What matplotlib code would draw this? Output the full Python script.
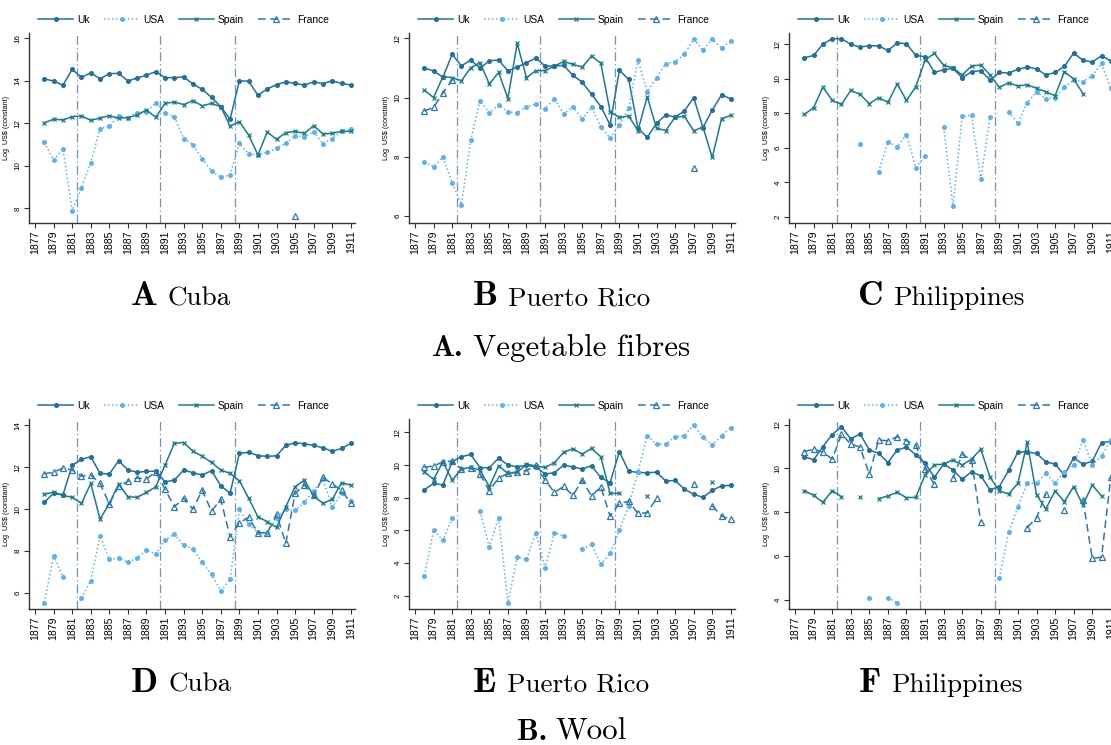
import numpy as np
import matplotlib
matplotlib.use("Agg")
import matplotlib.pyplot as plt

nan = np.nan
years = np.arange(1877, 1912)
break_years = [1881.5, 1890.5, 1898.5]
series_names = ["Uk", "USA", "Spain", "France"]

# ---------------- Vegetable fibres ----------------
cuba_veg_uk = [nan, 14.09, 13.99, 13.79, 14.54, 14.16, 14.38, 14.09, 14.34, 14.35, 13.99,
               14.13, 14.27, 14.43, 14.15, 14.15, 14.18, 13.85, 13.6, 13.22, 12.78,
               12.19, 14.0, 13.98, 13.32, 13.62, 13.82, 13.95, 13.88, 13.8, 13.95,
               13.87, 14.0, 13.88, 13.8]
cuba_veg_usa = [nan, 11.1, 10.27, 10.8, 7.89, 8.97, 10.15, 11.75, 11.87, 12.35, 12.25,
                12.5, 12.53, 12.97, 12.47, 12.31, 11.28, 11.0, 10.34, 9.74, 9.47,
                9.57, 11.06, 10.56, 10.51, 10.65, 10.82, 11.06, 11.42, 11.37, 11.61,
                11.03, 11.28, 11.62, 11.72]
cuba_veg_spain = [nan, 12.03, 12.19, 12.16, 12.31, 12.35, 12.14, 12.25, 12.36, 12.24, 12.27,
                  12.39, 12.63, 12.28, 12.94, 13.0, 12.88, 13.07, 12.82, 12.94, 12.78,
                  11.87, 12.08, 11.45, 10.51, 11.59, 11.25, 11.56, 11.62, 11.53, 11.89,
                  11.5, 11.53, 11.62, 11.62]
cuba_veg_france = [nan] * 28 + [7.62] + [nan] * 6

pr_veg_uk = [nan, 11.0, 10.9, 10.69, 11.46, 11.07, 11.27, 10.99, 11.24, 11.27, 10.9,
             11.03, 11.18, 11.33, 11.07, 11.06, 11.09, 10.75, 10.52, 10.12, 9.7,
             9.08, 10.92, 10.62, 8.97, 8.66, 9.13, 9.42, 9.34, 9.55, 10.0,
             8.99, 9.58, 10.09, 9.96]
pr_veg_usa = [nan, 7.83, 7.67, 7.99, 7.13, 6.39, 8.56, 9.9, 9.49, 9.75, 9.52,
              9.49, 9.7, 9.78, 9.62, 9.96, 9.46, 9.69, 9.27, 9.67, 9.02,
              8.63, 9.07, 9.64, 11.27, 10.2, 10.67, 11.15, 11.21, 11.46, 11.98,
              11.6, 11.98, 11.67, 11.92]
pr_veg_spain = [nan, 10.25, 10.0, 10.71, 10.67, 10.57, 11.01, 11.18, 10.46, 10.85, 9.97,
                11.83, 10.67, 10.91, 10.91, 11.06, 11.22, 11.12, 11.03, 11.4, 11.16,
                9.53, 9.33, 9.38, 8.89, 10.03, 8.97, 8.89, 9.34, 9.37, 8.88,
                9.01, 7.98, 9.29, 9.4]
pr_veg_france = [nan, 9.55, 9.67, 10.16, 10.6] + [nan] * 25 + [7.62] + [nan] * 4

ph_veg_uk = [nan, 11.21, 11.34, 12.0, 12.31, 12.31, 11.98, 11.83, 11.9, 11.9, 11.63,
             12.06, 12.02, 11.34, 11.27, 10.36, 10.52, 10.59, 10.05, 10.4, 10.46,
             9.92, 10.36, 10.32, 10.54, 10.67, 10.57, 10.21, 10.36, 10.71, 11.48,
             11.06, 10.96, 11.33, 11.02]
ph_veg_usa = [nan, nan, nan, nan, nan, nan, nan, 6.2, nan, 4.62, 6.35,
              6.07, 6.76, 4.85, 5.53, nan, 7.18, 2.64, 7.82, 7.88, 4.2,
              7.8, nan, 8.09, 7.41, 8.61, 9.24, 8.84, 8.88, 9.51, 9.92,
              9.82, 10.17, 10.88, 9.44]
ph_veg_spain = [nan, 7.93, 8.32, 9.51, 8.74, 8.51, 9.32, 9.09, 8.55, 8.9, 8.63,
                9.69, 8.74, 9.53, 11.07, 11.46, 10.77, 10.63, 10.21, 10.73, 10.79,
                10.21, 9.5, 9.76, 9.57, 9.65, 9.44, 9.24, 9.01, 10.4, 9.98,
                9.13, nan, nan, nan]
ph_veg_france = [nan] * 35

# ---------------- Wool ----------------
cuba_wool_uk = [nan, 10.33, 10.75, 10.67, 12.08, 12.37, 12.49, 11.7, 11.67, 12.3, 11.86,
                11.76, 11.79, 11.81, 11.29, 11.38, 11.86, 11.73, 11.62, 11.83, 11.11,
                10.75, 12.65, 12.71, 12.54, 12.51, 12.54, 13.03, 13.16, 13.11, 13.03,
                12.92, 12.75, 12.89, 13.13]
cuba_wool_usa = [nan, 5.54, 7.78, 6.78, nan, 5.76, 6.59, 8.73, 7.6, 7.67, 7.46,
                 7.67, 8.05, 7.86, 8.52, 8.81, 8.27, 8.11, 7.46, 6.89, 6.1,
                 6.65, 9.98, 9.27, 8.89, 8.87, 9.59, 9.98, 9.95, 10.32, 10.87,
                 11.41, 10.08, 10.75, 10.38]
cuba_wool_spain = [nan, 10.7, 10.81, 10.65, 10.56, 10.27, 11.22, 9.52, 10.27, 11.19, 10.59,
                   10.56, 10.79, 11.06, 12.1, 13.13, 13.17, 12.75, 12.52, 12.22, 11.86,
                   11.7, 11.35, 10.51, 9.63, 9.4, 9.13, 10.11, 11.06, 11.38, 10.62,
                   10.27, 10.46, 11.25, 11.14]
cuba_wool_france = [nan, 11.68, 11.76, 11.95, 11.86, 11.57, 11.62, 11.22, 10.24, 11.1, 11.32,
                    11.48, 11.44, 11.76, 10.94, 10.11, 10.51, 10.0, 10.9, 9.9, 10.46,
                    8.68, 9.35, 9.6, 8.87, 8.87, 9.75, 8.37, 10.75, 11.14, 10.65,
                    11.51, 11.19, 10.9, 10.27]

pr_wool_uk = [nan, 8.49, 8.88, 8.78, 10.2, 10.51, 10.65, 9.84, 9.84, 10.43, 10.0,
              9.9, 9.98, 9.9, 9.45, 9.53, 10.0, 9.88, 9.76, 9.96, 9.24,
              8.92, 10.82, 9.63, 9.55, 9.53, 9.57, 9.02, 9.06, 8.53, 8.22,
              8.02, 8.45, 8.73, 8.76]
pr_wool_usa = [nan, 3.22, 6.02, 5.39, 6.73, nan, nan, 7.18, 5.0, 6.78, 1.57,
               4.39, 4.22, 5.86, 3.69, 5.86, 5.67, nan, 4.86, 5.14, 3.92,
               4.59, 6.0, 7.5, 9.6, 11.8, 11.27, 11.29, 11.73, 11.8, 12.45,
               11.69, 11.22, 11.8, 12.29]
pr_wool_spain = [nan, 9.59, 9.12, 10.2, 9.08, 9.76, 9.86, 9.69, 8.67, 9.94, 9.49,
                 9.55, 10.06, 9.94, 9.86, 10.14, 10.78, 11.0, 10.67, 11.02, 10.51,
                 8.27, 8.27, nan, nan, 8.1, nan, nan, nan, nan, nan,
                 nan, 8.94, nan, nan]
pr_wool_france = [nan, 9.86, 9.94, 10.2, 10.24, 9.76, 9.8, 9.43, 8.43, 9.22, 9.49,
                  9.59, 9.65, 10.0, 9.08, 8.33, 8.69, 8.14, 9.08, 8.1, 8.67,
                  6.88, 7.65, 7.78, 7.04, 7.08, 7.96, nan, nan, nan, 8.84,
                  nan, 7.51, 6.88, 6.67]

ph_wool_uk = [nan, 10.54, 10.39, 11.0, 11.55, 11.91, 11.35, 11.58, 10.84, 10.69, 10.27,
              10.84, 10.97, 10.63, 10.25, 9.59, 10.2, 9.93, 9.5, 9.85, 9.66,
              9.02, 9.17, 9.91, 10.75, 10.75, 10.69, 10.3, 10.2, 9.69, 10.49,
              10.19, 10.33, 11.18, 11.23]
ph_wool_usa = [nan, nan, nan, nan, nan, nan, nan, nan, 4.09, nan, 4.09,
               3.86, nan, nan, nan, nan, nan, nan, nan, nan, nan,
               nan, 5.0, 7.08, 8.24, 9.32, 9.32, 9.78, 9.32, 9.85, 10.14,
               11.3, 10.17, 10.57, 11.3]
ph_wool_spain = [nan, 8.98, 8.77, 8.45, 8.98, 8.71, nan, 8.68, nan, 8.62, 8.74,
                 8.91, 8.66, 8.68, 9.7, 10.16, 10.2, 10.39, 10.16, 10.42, 10.88,
                 9.59, 8.97, 8.83, 9.32, 11.2, 8.79, 8.15, 8.97, 8.48, 9.17,
                 8.33, 9.24, 8.74, nan]
ph_wool_france = [nan, 10.77, 10.88, 10.74, 10.43, 11.56, 11.12, 10.97, 9.73, 11.3, 11.26,
                  11.45, 11.27, 11.07, 9.98, 9.27, nan, 9.55, 10.65, 10.39, 7.54,
                  nan, nan, nan, nan, 7.29, 7.75, 8.82, nan, 8.1, nan,
                  8.56, 5.89, 5.94, 9.59]

panels = [
    ("A", "Cuba", [cuba_veg_uk, cuba_veg_usa, cuba_veg_spain, cuba_veg_france],
     (7.31, 16.25), [8, 10, 12, 14, 16]),
    ("B", "Puerto Rico", [pr_veg_uk, pr_veg_usa, pr_veg_spain, pr_veg_france],
     (5.77, 12.18), [6, 8, 10, 12]),
    ("C", "Philippines", [ph_veg_uk, ph_veg_usa, ph_veg_spain, ph_veg_france],
     (1.65, 12.64), [2, 4, 6, 8, 10, 12]),
    ("D", "Cuba", [cuba_wool_uk, cuba_wool_usa, cuba_wool_spain, cuba_wool_france],
     (5.24, 14.29), [6, 8, 10, 12, 14]),
    ("E", "Puerto Rico", [pr_wool_uk, pr_wool_usa, pr_wool_spain, pr_wool_france],
     (1.19, 12.82), [2, 4, 6, 8, 10, 12]),
    ("F", "Philippines", [ph_wool_uk, ph_wool_usa, ph_wool_spain, ph_wool_france],
     (3.57, 12.26), [4, 6, 8, 10, 12]),
]
group_titles = [("A.", "Vegetable fibres"), ("B.", "Wool")]

styles = {
    "Uk": dict(color="#22709c", ls="-", lw=1.1, marker="o", ms=2.8, mew=0.8),
    "USA": dict(color="#5cb0f3", ls=(0, (1, 1.6)), lw=1.1, marker="o", ms=3.6, mew=0),
    "Spain": dict(color="#1a7c8a", ls="-", lw=1.1, marker="x", ms=3.2, mew=0.9),
    "France": dict(color="#2a78ad", ls=(0, (5, 3)), lw=1.1, marker="^", ms=4.6,
                   mew=0.9, mfc="none"),
}

W, H = 1111, 745
fig = plt.figure(figsize=(W / 100, H / 100), dpi=100)
fig.patch.set_facecolor("white")

AX_W, AX_H = 326, 190
col_left = [29, 409, 789]
row_top = [33, 419]

for i, (letter, name, series, ylim, yticks) in enumerate(panels):
    r, c = divmod(i, 3)
    left = col_left[c]
    top = row_top[r]
    ax = fig.add_axes([left / W, 1 - (top + AX_H) / H, AX_W / W, AX_H / H])
    for yr in break_years:
        ax.axvline(yr, color="#7094b8", lw=0.9, ls=(0, (7, 2.5, 1, 2.5)), zorder=1)
    handles = []
    for nm, vals in zip(series_names, series):
        st = styles[nm]
        h, = ax.plot(years, np.array(vals, dtype=float), color=st["color"], ls=st["ls"],
                     lw=st["lw"], marker=st["marker"], ms=st["ms"], mew=st["mew"],
                     mfc=st.get("mfc", st["color"]), mec=st["color"], zorder=3)
        handles.append(h)
    ax.set_xlim(1876.35, 1911.45)
    ax.set_ylim(*ylim)
    ax.set_xticks(np.arange(1877, 1912, 2))
    ax.set_xticklabels([str(y) for y in np.arange(1877, 1912, 2)], rotation=90,
                       fontsize=7.6, fontfamily="Liberation Sans")
    ax.set_yticks(yticks)
    ax.set_yticklabels([str(v) for v in yticks], rotation=90, va="center",
                       fontsize=5.8, fontfamily="Liberation Sans")
    ax.tick_params(axis="both", direction="out", length=3.5, width=0.8,
                   color="#333333", pad=2)
    for s in ("top", "right"):
        ax.spines[s].set_visible(False)
    for s in ("left", "bottom"):
        ax.spines[s].set_color("#333333")
        ax.spines[s].set_linewidth(1.0)
    ax.set_ylabel(r"Log  US\$ (constant)", fontsize=5.2, fontfamily="Liberation Sans",
                  labelpad=3)
    ax.legend(handles, series_names, ncol=4, loc="center",
              bbox_to_anchor=(0.475, 1 + 13 / AX_H), frameon=False,
              prop=dict(family="Liberation Sans", size=7.4), handlelength=3.4,
              columnspacing=1.4, handletextpad=0.4, borderaxespad=0, borderpad=0)

renderer = fig.canvas.get_renderer()


def two_part_caption(xc, baseline, bold, plain, bold_size, plain_size, gap):
    t1 = fig.text(0, 0, bold, fontfamily="cmb10", fontsize=bold_size,
                  ha="left", va="baseline")
    t2 = fig.text(0, 0, plain, fontfamily="cmr10", fontsize=plain_size,
                  ha="left", va="baseline")
    w1 = t1.get_window_extent(renderer).width
    w2 = t2.get_window_extent(renderer).width
    x0 = xc - (w1 + gap + w2) / 2
    t1.set_position((x0 / W, 1 - baseline / H))
    t2.set_position(((x0 + w1 + gap) / W, 1 - baseline / H))


for i, (letter, name, *_rest) in enumerate(panels):
    r, c = divmod(i, 3)
    base = 305 if r == 0 else 692
    two_part_caption(181 + 380 * c, base, letter, name, 25.5, 19.5, 10)

two_part_caption(561, 356, group_titles[0][0], group_titles[0][1], 22, 22.3, 9)
two_part_caption(572, 740, group_titles[1][0], group_titles[1][1], 22, 22.3, 9)

fig.savefig("out.png", dpi=100, facecolor="white")
